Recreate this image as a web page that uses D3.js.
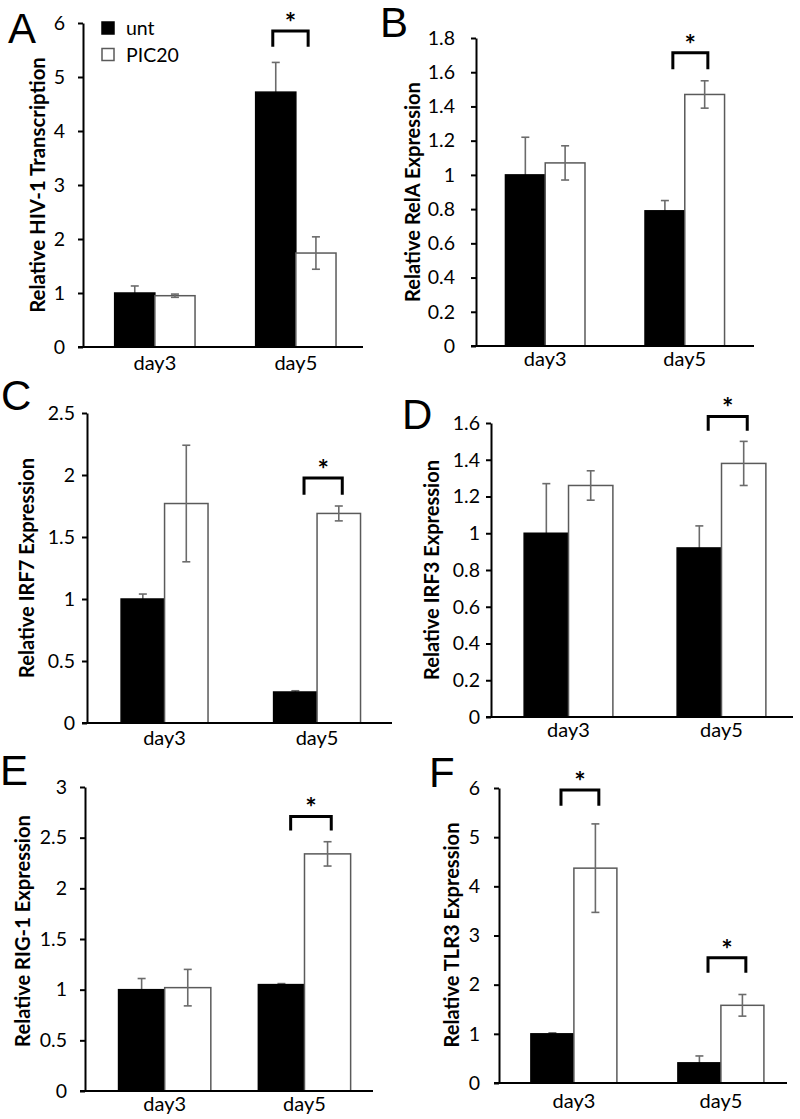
<!DOCTYPE html>
<html><head><meta charset="utf-8">
<script src="https://cdn.jsdelivr.net/npm/d3@7"></script>
<style>body{margin:0;background:#fff} svg{display:block}</style>
</head><body>
<svg id="chart" width="800" height="1119"></svg>
<script>
// ---------- data ----------
const categories = ["day3", "day5"];
const seriesNames = ["unt", "PIC20"];

// A: HIV-1 transcription
const hivUnt = [1.00, 4.72], hivUntErr = [0.13, 0.55];
const hivPic = [0.95, 1.74], hivPicErr = [0.03, 0.30];
const hivTicks = [0, 1, 2, 3, 4, 5, 6];
const hivSig = [{cat: "day5", top: 5.85, bottom: 5.56}];

// B: RelA
const relaUnt = [1.00, 0.79], relaUntErr = [0.22, 0.06];
const relaPic = [1.07, 1.47], relaPicErr = [0.10, 0.08];
const relaTicks = [0, 0.2, 0.4, 0.6, 0.8, 1, 1.2, 1.4, 1.6, 1.8];
const relaSig = [{cat: "day5", top: 1.714, bottom: 1.617}];

// C: IRF7
const irf7Unt = [1.00, 0.25], irf7UntErr = [0.04, 0.01];
const irf7Pic = [1.77, 1.69], irf7PicErr = [0.47, 0.06];
const irf7Ticks = [0, 0.5, 1, 1.5, 2, 2.5];
const irf7Sig = [{cat: "day5", top: 1.975, bottom: 1.84}];

// D: IRF3
const irf3Unt = [1.00, 0.92], irf3UntErr = [0.27, 0.12];
const irf3Pic = [1.26, 1.38], irf3PicErr = [0.08, 0.12];
const irf3Ticks = [0, 0.2, 0.4, 0.6, 0.8, 1, 1.2, 1.4, 1.6];
const irf3Sig = [{cat: "day5", top: 1.636, bottom: 1.558}];

// E: RIG-1
const rigUnt = [1.00, 1.05], rigUntErr = [0.11, 0.01];
const rigPic = [1.02, 2.34], rigPicErr = [0.18, 0.12];
const rigTicks = [0, 0.5, 1, 1.5, 2, 2.5, 3];
const rigSig = [{cat: "day5", top: 2.71, bottom: 2.57}];

// F: TLR3
const tlrUnt = [1.00, 0.41], tlrUntErr = [0.02, 0.14];
const tlrPic = [4.37, 1.58], tlrPicErr = [0.90, 0.22];
const tlrTicks = [0, 1, 2, 3, 4, 5, 6];
const tlrSig = [{cat: "day3", top: 5.96, bottom: 5.64}, {cat: "day5", top: 2.55, bottom: 2.24}];

// ---------- panels (data + layout) ----------
const panels = [
  {letter: "A", title: "Relative HIV-1 Transcription", unt: hivUnt, untErr: hivUntErr, pic: hivPic, picErr: hivPicErr, ticks: hivTicks, sig: hivSig, legend: true,
   L: {ax: 83, x1: 363, yTop: 23, y0: 347, pi: 0.43, po: 0.208, al: 0.54, gap: 18, tx: 38, ty: 185, tlen: 256, lx: 8, ly: 43, xdy: 23, bs: -11}},
  {letter: "B", title: "Relative RelA Expression", unt: relaUnt, untErr: relaUntErr, pic: relaPic, picErr: relaPicErr, ticks: relaTicks, sig: relaSig,
   L: {ax: 476, x1: 754, yTop: 38, y0: 346, pi: 0.43, po: 0.211, al: 0.5, gap: 21, tx: 413, ty: 192, tlen: 220, lx: 380, ly: 37, xdy: 20, bs: 0}},
  {letter: "C", title: "Relative IRF7 Expression", unt: irf7Unt, untErr: irf7UntErr, pic: irf7Pic, picErr: irf7PicErr, ticks: irf7Ticks, sig: irf7Sig,
   L: {ax: 87, x1: 392, yTop: 413, y0: 723, pi: 0.43, po: 0.215, al: 0.52, gap: 12, tx: 27, ty: 568, tlen: 220, lx: 1, ly: 410, xdy: 22, bs: 0}},
  {letter: "D", title: "Relative IRF3 Expression", unt: irf3Unt, untErr: irf3UntErr, pic: irf3Pic, picErr: irf3PicErr, ticks: irf3Ticks, sig: irf3Sig,
   L: {ax: 491, x1: 793, yTop: 423, y0: 717, pi: 0.42, po: 0.197, al: 0.55, gap: 11, tx: 432, ty: 570, tlen: 220, lx: 402, ly: 429, xdy: 20, bs: 0}},
  {letter: "E", title: "Relative RIG-1 Expression", unt: rigUnt, untErr: rigUntErr, pic: rigPic, picErr: rigPicErr, ticks: rigTicks, sig: rigSig,
   L: {ax: 85, x1: 373, yTop: 787, y0: 1091, pi: 0.34, po: 0.2, al: 0.6, gap: 18, tx: 23, ty: 931, tlen: 232, lx: 0, ly: 785, xdy: 20, bs: 0}},
  {letter: "F", title: "Relative TLR3 Expression", unt: tlrUnt, untErr: tlrUntErr, pic: tlrPic, picErr: tlrPicErr, ticks: tlrTicks, sig: tlrSig,
   L: {ax: 499, x1: 787, yTop: 788, y0: 1083, pi: 0.415, po: 0.187, al: 0.58, gap: 19, tx: 452, ty: 935, tlen: 225, lx: 429, ly: 787, xdy: 25, bs: 0}}
];

const FONT = "Lato, 'Open Sans', sans-serif";
const svg = d3.select("#chart");
const fmt = d3.format(".1~f");

panels.forEach(p => {
  const L = p.L;
  const g = svg.append("g");
  const y = d3.scaleLinear().domain([0, d3.max(p.ticks)]).range([L.y0, L.yTop]);
  const x = d3.scaleBand().domain(categories).range([L.ax, L.x1])
    .paddingInner(L.pi).paddingOuter(L.po).align(L.al);
  const xs = d3.scaleBand().domain(seriesNames).range([0, x.bandwidth()]);
  const rows = categories.map((c, i) => ({
    cat: c,
    vals: [
      {s: "unt", v: p.unt[i], e: p.untErr[i]},
      {s: "PIC20", v: p.pic[i], e: p.picErr[i]}
    ]
  }));
  const flat = rows.flatMap(r => r.vals.map(v => Object.assign({cat: r.cat}, v)));
  const cx = d => x(d.cat) + xs(d.s) + xs.bandwidth() / 2;

  function errBars(data) {
    const eg = g.append("g").attr("stroke", "#6b6b6b").attr("stroke-width", 1.6);
    data.forEach(d => {
      const c = cx(d);
      eg.append("line").attr("x1", c).attr("x2", c).attr("y1", y(d.v - d.e)).attr("y2", y(d.v + d.e));
      eg.append("line").attr("x1", c - 4).attr("x2", c + 4).attr("y1", y(d.v + d.e)).attr("y2", y(d.v + d.e));
      eg.append("line").attr("x1", c - 4).attr("x2", c + 4).attr("y1", y(d.v - d.e)).attr("y2", y(d.v - d.e));
    });
  }
  // unt error bars are drawn behind the black bars
  errBars(flat.filter(d => d.s === "unt"));

  g.append("g").selectAll("rect").data(flat).join("rect")
    .attr("x", d => x(d.cat) + xs(d.s))
    .attr("width", xs.bandwidth())
    .attr("y", d => y(d.v))
    .attr("height", d => y(0) - y(d.v))
    .attr("fill", d => d.s === "unt" ? "#000" : "#fff")
    .attr("stroke", d => d.s === "unt" ? "#000" : "#5a5a5a")
    .attr("stroke-width", 1.5);

  errBars(flat.filter(d => d.s === "PIC20"));

  // y axis
  const ya = g.append("g").attr("transform", `translate(${L.ax},0)`)
    .call(d3.axisLeft(y).tickValues(p.ticks).tickSize(5).tickSizeOuter(0)
      .tickPadding(L.gap - 5).tickFormat(fmt));
  ya.select(".domain").attr("stroke", "#000").attr("stroke-width", 2);
  ya.selectAll(".tick line").attr("stroke", "#000").attr("stroke-width", 2);
  ya.selectAll(".tick text").attr("font-family", FONT).attr("font-size", 19.5).attr("fill", "#000");
  ya.attr("font-family", null).attr("font-size", null);

  // x axis line
  g.append("line").attr("x1", L.ax - 5).attr("x2", L.x1).attr("y1", y(0)).attr("y2", y(0))
    .attr("stroke", "#000").attr("stroke-width", 2);
  g.append("g").selectAll("text").data(categories).join("text")
    .attr("x", d => x(d) + x.bandwidth() / 2)
    .attr("y", y(0) + L.xdy)
    .attr("text-anchor", "middle")
    .attr("font-family", FONT).attr("font-size", 20).attr("fill", "#000")
    .text(d => d);

  // y title, fitted to measured length
  const t = g.append("text")
    .attr("transform", `translate(${L.tx},${L.ty}) rotate(-90)`)
    .attr("text-anchor", "middle").attr("dy", "0.35em")
    .attr("font-family", FONT).attr("font-weight", "bold").attr("font-size", 16)
    .attr("fill", "#000").text(p.title);
  const len = t.node().getComputedTextLength();
  if (len > 0) t.attr("font-size", 16 * L.tlen / len);

  // panel letter
  g.append("text").attr("x", L.lx).attr("y", L.ly)
    .attr("font-family", "'Liberation Sans', Arial, sans-serif").attr("font-size", 42)
    .attr("fill", "#000").text(p.letter);

  // significance brackets
  const bw = xs.bandwidth();
  p.sig.forEach(s => {
    const c = x(s.cat) + x.bandwidth() / 2 + L.bs;
    const left = c - 0.3 * bw, right = c + 0.58 * bw;
    g.append("path")
      .attr("d", `M${left},${y(s.bottom)}V${y(s.top)}H${right}V${y(s.bottom)}`)
      .attr("fill", "none").attr("stroke", "#000").attr("stroke-width", 3);
    g.append("text").attr("x", (left + right) / 2).attr("y", y(s.top) + 1)
      .attr("text-anchor", "middle").attr("font-family", FONT).attr("font-weight", "bold")
      .attr("font-size", 27).attr("fill", "#000").text("*");
  });

  // legend
  if (p.legend) {
    const lg = g.append("g");
    seriesNames.forEach((s, i) => {
      lg.append("rect").attr("x", 102).attr("y", 22 + i * 26.5).attr("width", 12).attr("height", 12)
        .attr("fill", s === "unt" ? "#000" : "#fff")
        .attr("stroke", s === "unt" ? "#000" : "#5a5a5a").attr("stroke-width", 1.5);
      lg.append("text").attr("x", 126).attr("y", 35 + i * 27)
        .attr("font-family", FONT).attr("font-size", 19.5).attr("fill", "#000").text(s);
    });
  }
});
</script>
</body></html>
